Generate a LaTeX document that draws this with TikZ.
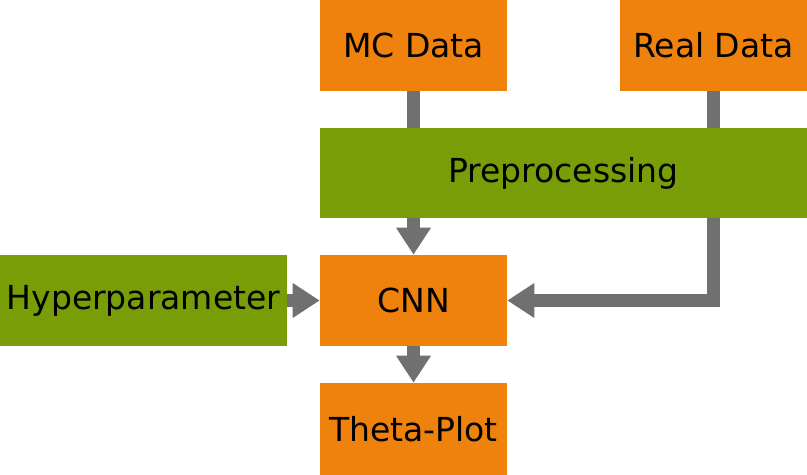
\documentclass[tikz,border=0pt]{standalone}
\usepackage{fontspec}
\setmainfont{DejaVu Sans}
\usepackage{xcolor}
\usetikzlibrary{arrows.meta, backgrounds}

\definecolor{boxorange}{HTML}{EE820D}
\definecolor{boxgreen}{HTML}{789D07}
\definecolor{flowgray}{HTML}{707070}

\tikzset{
  box/.style={inner sep=0pt, text=black, font=\fontsize{23.5}{28}\selectfont},
  orangebox/.style={box, fill=boxorange, minimum width=4.675cm, minimum height=2.275cm},
  greenbox/.style={box, fill=boxgreen, minimum height=2.275cm},
  flow/.style={flowgray, line width=0.325cm, -{Triangle[length=0.675cm, width=0.825cm]}}
}

\begin{document}
\begin{tikzpicture}

\useasboundingbox (0,0) rectangle (20.175,11.875);

% Boxes
\node[orangebox] (MC) at (10.3375,10.7375) {MC Data};
\node[orangebox] (Real) at (17.8375,10.7375) {Real Data};
\node[greenbox, minimum width=12.175cm, minimum height=2.25cm] (Pre) at (14.0875,7.55) {Preprocessing};
\node[greenbox, minimum width=7.175cm] (Hyp) at (3.5875,4.3625) {Hyperparameter};
\node[orangebox] (CNN) at (10.3375,4.3625) {CNN};
\node[orangebox, minimum height=2.3cm] (Theta) at (10.3375,1.15) {Theta-Plot};

% Arrows
\begin{scope}[on background layer]
\draw[flow] (MC.south) -- (CNN.north);
\draw[flow] (Real.south) |- (CNN.east);
\draw[flow] (Hyp.east) -- (CNN.west);
\draw[flow] (CNN.south) -- (Theta.north);
\end{scope}

\end{tikzpicture}
\end{document}
